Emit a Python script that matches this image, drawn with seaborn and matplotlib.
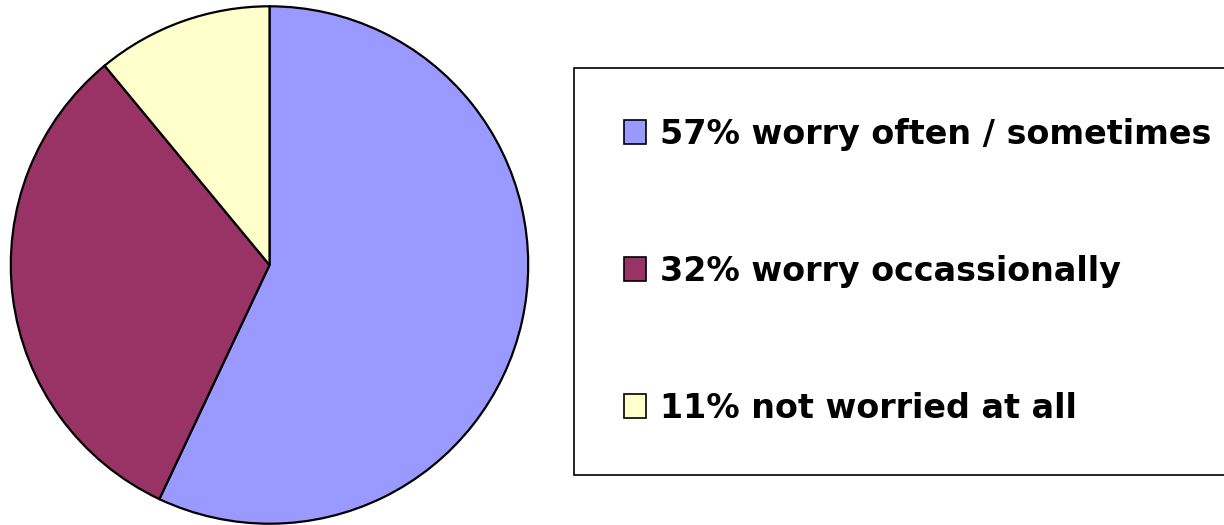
import matplotlib
matplotlib.use("Agg")
import matplotlib.pyplot as plt
import seaborn as sns

# Survey shares
categories = ["worry often / sometimes", "worry occassionally", "not worried at all"]
shares = [57, 32, 11]
colors = ["#9999FF", "#993366", "#FFFFCC"]

sns.set_theme(style="white")
plt.rcParams["font.family"] = ["DejaVu Sans"]
plt.rcParams["text.color"] = "black"

fig = plt.figure(figsize=(12.24, 5.25), dpi=100)
W, H = 1224, 525

# Pie axes: square, 520 px, centred near (269.5, 265) from top-left
ax = fig.add_axes([9.5 / W, 0 / H, 520 / W, 520 / H])
wedges, _ = ax.pie(
    shares,
    colors=colors,
    startangle=90,
    counterclock=False,
    radius=1.0,
    wedgeprops=dict(edgecolor="black", linewidth=1.6),
)
ax.set_xlim(-1.005, 1.005)
ax.set_ylim(-1.005, 1.005)
ax.set_aspect("equal")
ax.axis("off")

labels = [f"{s}% {c}" for s, c in zip(shares, categories)]
leg = fig.legend(
    wedges,
    labels,
    loc="upper left",
    bbox_to_anchor=(574 / W, 1 - 68 / H),
    bbox_transform=fig.transFigure,
    prop=dict(family="DejaVu Sans", weight="bold", size=24),
    frameon=True,
    fancybox=False,
    edgecolor="black",
    framealpha=1,
    borderpad=1.5,
    borderaxespad=0,
    handlelength=0.66,
    handleheight=0.72,
    handletextpad=0.42,
    labelspacing=3.12,
)
leg.get_frame().set_linewidth(1.2)
for t in leg.get_texts():
    t.set_color("black")
for h in leg.legend_handles:
    h.set_linewidth(1.2)
    h.set_edgecolor("black")

fig.savefig("out.png", dpi=100)
